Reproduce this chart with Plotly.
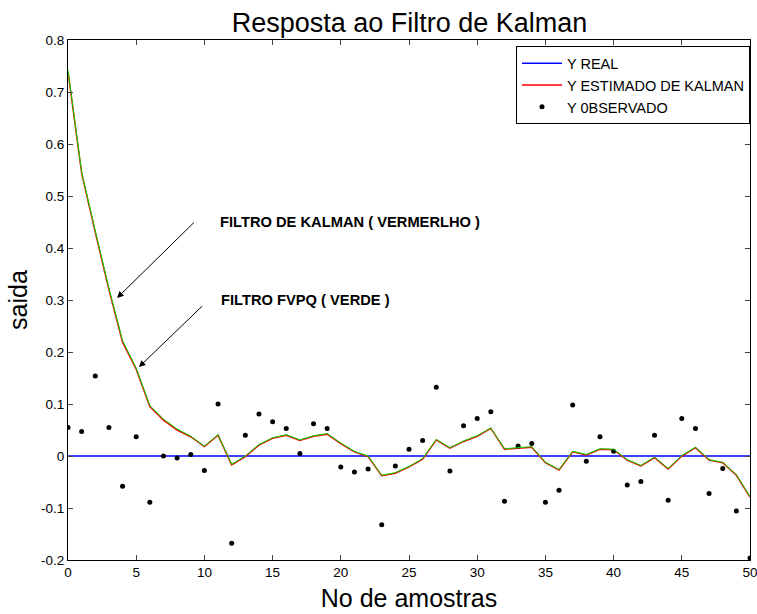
import plotly.graph_objects as go

samples = list(range(51))

y_real = [0.0] * 51

y_kalman = [0.739, 0.544, 0.43, 0.32, 0.219, 0.167, 0.095, 0.069, 0.050, 0.037,
            0.018, 0.040, -0.017, -0.001, 0.021, 0.034, 0.040, 0.030, 0.038, 0.042,
            0.024, 0.008, -0.001, -0.038, -0.033, -0.021, -0.006, 0.031, 0.015, 0.028,
            0.038, 0.053, 0.013, 0.015, 0.017, -0.013, -0.027, 0.008, 0.002, 0.013,
            0.012, -0.008, -0.019, -0.003, -0.025, 0.000, 0.016, -0.008, -0.013, -0.037,
            -0.079]

y_fvpq = [0.742, 0.546, 0.433, 0.323, 0.222, 0.169, 0.097, 0.071, 0.052, 0.038,
          0.019, 0.041, -0.016, 0.000, 0.022, 0.035, 0.041, 0.031, 0.039, 0.043,
          0.025, 0.009, 0.000, -0.037, -0.032, -0.020, -0.005, 0.032, 0.016, 0.029,
          0.039, 0.054, 0.014, 0.016, 0.018, -0.012, -0.026, 0.009, 0.003, 0.014,
          0.013, -0.007, -0.018, -0.002, -0.024, 0.001, 0.017, -0.007, -0.012, -0.036,
          -0.078]

y_obs = [0.055, 0.047, 0.154, 0.055, -0.058, 0.037, -0.089, 0.000, -0.004, 0.003,
         -0.028, 0.100, -0.168, 0.040, 0.081, 0.066, 0.053, 0.005, 0.062, 0.053,
         -0.021, -0.031, -0.025, -0.132, -0.019, 0.013, 0.030, 0.132, -0.029, 0.058,
         0.072, 0.085, -0.087, 0.019, 0.024, -0.089, -0.066, 0.098, -0.010, 0.037,
         0.009, -0.056, -0.049, 0.040, -0.085, 0.072, 0.053, -0.072, -0.024, -0.106,
         -0.196]

x_ticks = [0, 5, 10, 15, 20, 25, 30, 35, 40, 45, 50]
y_ticks = [-0.2, -0.1, 0, 0.1, 0.2, 0.3, 0.4, 0.5, 0.6, 0.7, 0.8]
y_tick_labels = ["-0.2", "-0.1", "0", "0.1", "0.2", "0.3", "0.4", "0.5", "0.6", "0.7", "0.8"]

font_family = "Liberation Sans, Arial, sans-serif"

fig = go.Figure()
fig.add_trace(go.Scatter(x=samples, y=y_real, mode="lines", name="Y REAL",
                         line=dict(color="#0000ff", width=1.5)))
fig.add_trace(go.Scatter(x=samples, y=y_kalman, mode="lines", name="Y ESTIMADO DE KALMAN",
                         line=dict(color="#ff0000", width=1.5)))
fig.add_trace(go.Scatter(x=samples, y=y_obs, mode="markers", name="Y 0BSERVADO",
                         marker=dict(color="black", size=5)))
fig.add_trace(go.Scatter(x=samples, y=y_fvpq, mode="lines", name="FVPQ", showlegend=False,
                         line=dict(color="#00dd00", width=1)))

annotations = [
    dict(x=3.6, y=0.304, ax=9.35, ay=0.452, xref="x", yref="y", axref="x", ayref="y",
         text="", showarrow=True, arrowhead=2, arrowsize=1.3, arrowwidth=1, arrowcolor="black"),
    dict(x=5.2, y=0.171, ax=9.95, ay=0.291, xref="x", yref="y", axref="x", ayref="y",
         text="", showarrow=True, arrowhead=2, arrowsize=1.3, arrowwidth=1, arrowcolor="black"),
    dict(x=10.98, y=0.45, xref="x", yref="y", text="<b>FILTRO DE KALMAN ( VERMERLHO )</b>",
         showarrow=False, xanchor="left", yanchor="middle",
         font=dict(size=14.7, color="black", family=font_family)),
    dict(x=11.05, y=0.30, xref="x", yref="y", text="<b>FILTRO FVPQ ( VERDE )</b>",
         showarrow=False, xanchor="left", yanchor="middle",
         font=dict(size=14.7, color="black", family=font_family)),
]

fig.update_layout(
    width=757, height=614,
    margin=dict(l=68, r=7, t=40, b=54, autoexpand=False),
    paper_bgcolor="white", plot_bgcolor="white",
    font=dict(family=font_family, color="black"),
    title=dict(text="Resposta ao Filtro de Kalman", x=0.541, xanchor="center",
               y=0.963, yanchor="middle", font=dict(size=27, color="black", family=font_family)),
    showlegend=True,
    legend=dict(x=1.0, y=0.988, xanchor="right", yanchor="top",
                bgcolor="white", bordercolor="black", borderwidth=1,
                font=dict(size=14.5, family=font_family, color="black"),
                tracegroupgap=0, itemwidth=40),
    annotations=annotations,
)

fig.update_xaxes(range=[0, 50], tickvals=x_ticks, ticks="inside", ticklen=5,
                 showline=True, linecolor="black", linewidth=1, mirror="allticks",
                 showgrid=False, zeroline=False, ticklabeloverflow="allow", automargin=False,
                 tickfont=dict(size=13.5, family=font_family),
                 title=dict(text="No de amostras", font=dict(size=25, family=font_family),
                            standoff=10))
fig.update_yaxes(range=[-0.2, 0.8], tickvals=y_ticks, ticktext=y_tick_labels,
                 ticks="inside", ticklen=5, automargin=False,
                 showline=True, linecolor="black", linewidth=1, mirror="allticks",
                 showgrid=False, zeroline=False,
                 tickfont=dict(size=13.5, family=font_family),
                 title=dict(text="saida", font=dict(size=25, family=font_family),
                            standoff=6))

fig.write_html("out.html")
